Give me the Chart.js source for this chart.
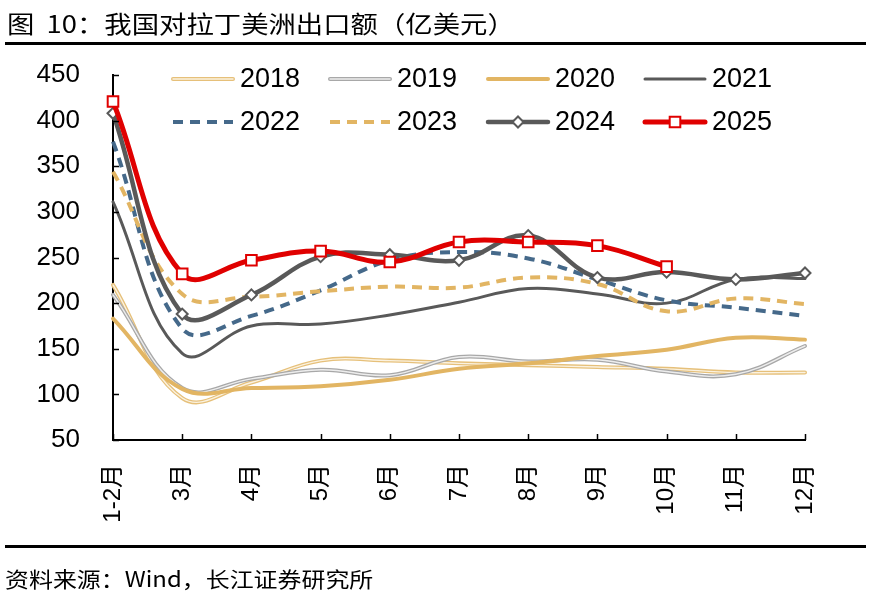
<!DOCTYPE html>
<html><head><meta charset="utf-8">
<script src="https://cdn.jsdelivr.net/npm/chart.js@4.4.1/dist/chart.umd.min.js"></script>
<style>
html,body{margin:0;padding:0;background:#fff;}
#wrap{position:relative;width:871px;height:597px;overflow:hidden;background:#fff;}
#title{position:absolute;left:7px;top:11px;font-family:"Noto Sans CJK SC";font-size:24px;line-height:24px;white-space:pre;color:#000;transform:scaleX(1.14);transform-origin:0 0;}
#rule1{position:absolute;left:5px;top:42px;width:861px;height:3px;background:#000;}
#rule2{position:absolute;left:5px;top:545px;width:861px;height:3px;background:#000;}
#source{position:absolute;left:5px;top:567px;font-family:"Noto Sans CJK SC";font-size:21px;line-height:22px;white-space:pre;color:#000;transform:scaleX(1.14);transform-origin:0 0;}
#c{position:absolute;left:0;top:0;}
</style></head>
<body>
<div id="wrap">
<canvas id="c" width="871" height="597"></canvas>
<div id="title">图  10：我国对拉丁美洲出口额（亿美元）</div>
<div id="rule1"></div>
<div id="rule2"></div>
<div id="source">资料来源：Wind，长江证券研究所</div>
</div>
<script>
const months = ['1-2月','3月','4月','5月','6月','7月','8月','9月','10月','11月','12月'];
const yMin = 50, yMax = 450, yStep = 50;
const v2018 = [220, 96, 113, 137, 137, 134, 132, 130, 128, 124, 124];
const v2019 = [209, 107, 117, 127, 121, 141, 136, 138, 125, 122, 153];
const v2020 = [183, 106, 107, 109, 116, 128, 134, 142, 149, 162, 160];
const v2021 = [311, 145, 175, 177, 187, 201, 216, 210, 200, 226, 227];
const v2022 = [377, 172, 186, 214, 247, 256, 249, 226, 203, 195, 186];
const v2023 = [344, 210, 207, 213, 218, 217, 228, 221, 191, 205, 199];
const v2024 = [408, 188, 209, 251, 253, 247, 274, 228, 234, 226, 233];
const v2025 = [421, 232, 247, 257, 245, 267, 267, 263, 240, null, null];

const GOLD = '#E2B563', DGREY = '#595959', BLUE = '#45698A', RED = '#E00000';

function series(label, data, color, width, extra){
  return Object.assign({
    label, data, borderColor: color, backgroundColor: color, borderWidth: width,
    pointRadius: 0, pointHoverRadius: 0, tension: 0.4, fill: false, clip: false,
    borderCapStyle: 'round', borderJoinStyle: 'round'
  }, extra || {});
}

const main = [
  series('2018', v2018, '#E6C07A', 4, {order: 18, innerColor: '#FBF2E0'}),
  series('2019', v2019, '#A8A8A8', 4, {order: 17, innerColor: '#EDEDED'}),
  series('2020', v2020, GOLD, 4, {order: 16}),
  series('2021', v2021, DGREY, 3, {order: 15}),
  series('2022', v2022, BLUE, 4, {order: 14, borderDash: [10, 7], borderCapStyle: 'butt'}),
  series('2023', v2023, GOLD, 4, {order: 13, borderDash: [10, 7], borderCapStyle: 'butt'}),
  series('2024', v2024, DGREY, 4.5, {order: 12, pointRadius: 5.5, pointStyle: 'rectRot', pointBackgroundColor: '#fff', pointBorderColor: DGREY, pointBorderWidth: 2}),
  series('2025', v2025, RED, 5, {order: 11, pointRadius: 7.5, pointStyle: 'rect', pointBackgroundColor: '#fff', pointBorderColor: RED, pointBorderWidth: 2})
];
const overlays = main.filter(d => d.innerColor).map(d =>
  series(d.label, d.data, d.innerColor, 1.4, {order: d.order - 0.5, isOverlay: true}));
const datasets = main.concat(overlays);

function drawMarker(ctx, style, x, y, r, fill, stroke, lw){
  ctx.save();
  ctx.setLineDash([]);
  ctx.beginPath();
  if (style === 'rectRot'){
    ctx.moveTo(x - r, y); ctx.lineTo(x, y - r); ctx.lineTo(x + r, y); ctx.lineTo(x, y + r); ctx.closePath();
  } else {
    const s = Math.SQRT1_2 * r;
    ctx.rect(x - s, y - s, 2 * s, 2 * s);
  }
  ctx.fillStyle = fill; ctx.fill();
  ctx.lineWidth = lw; ctx.strokeStyle = stroke; ctx.stroke();
  ctx.restore();
}

const legendPlugin = {
  id: 'customLegend',
  afterDraw(chart){
    const ctx = chart.ctx;
    const cols = [173, 330, 488, 645], rows = [79, 122];
    chart.data.datasets.filter(d => !d.isOverlay).forEach((d, i) => {
      const x0 = cols[i % 4], y = rows[Math.floor(i / 4)], x1 = x0 + 60;
      ctx.save();
      ctx.lineCap = d.borderDash ? 'butt' : 'round';
      ctx.setLineDash(d.borderDash || []);
      ctx.strokeStyle = d.borderColor; ctx.lineWidth = d.borderWidth;
      ctx.beginPath(); ctx.moveTo(x0, y); ctx.lineTo(x1, y); ctx.stroke();
      if (d.innerColor){
        ctx.strokeStyle = d.innerColor; ctx.lineWidth = 1.4;
        ctx.beginPath(); ctx.moveTo(x0, y); ctx.lineTo(x1, y); ctx.stroke();
      }
      if (d.pointStyle){
        drawMarker(ctx, d.pointStyle, (x0 + x1) / 2, y, d.pointRadius, d.pointBackgroundColor, d.pointBorderColor, d.pointBorderWidth);
      }
      ctx.setLineDash([]);
      ctx.fillStyle = '#000';
      ctx.font = '27px "Liberation Sans", Arial, sans-serif';
      ctx.textBaseline = 'middle';
      ctx.textAlign = 'left';
      ctx.fillText(d.label, x0 + 67, y + 1);
      ctx.restore();
    });
  }
};

const tickPlugin = {
  id: 'innerTicks',
  afterDraw(chart){
    const ctx = chart.ctx, xs = chart.scales.x, ys = chart.scales.y;
    ctx.save();
    ctx.strokeStyle = '#000'; ctx.lineWidth = 1.5;
    ctx.beginPath();
    ys.ticks.forEach((t, i) => {
      const y = Math.round(ys.getPixelForTick(i)) + 0.5;
      ctx.moveTo(ys.right, y); ctx.lineTo(ys.right + 6, y);
    });
    xs.ticks.forEach((t, i) => {
      const x = Math.round(xs.getPixelForTick(i)) + 0.5;
      ctx.moveTo(x, xs.top); ctx.lineTo(x, xs.top - 6);
    });
    ctx.stroke();
    ctx.restore();
  }
};

new Chart(document.getElementById('c'), {
  type: 'line',
  data: { labels: months, datasets },
  options: {
    responsive: false,
    animation: false,
    events: [],
    layout: { padding: { top: 75, right: 66, left: 0, bottom: 0 } },
    plugins: { legend: { display: false }, tooltip: { enabled: false } },
    scales: {
      x: {
        type: 'category', offset: false,
        grid: { display: false, drawTicks: false },
        border: { display: true, color: '#000', width: 2 },
        ticks: { autoSkip: false, maxRotation: 90, minRotation: 90, padding: 24, color: '#000',
                 font: { family: '"Liberation Sans", "Noto Sans CJK SC"', size: 24 } },
        afterFit(s){ s.height = 157; }
      },
      y: {
        min: yMin, max: yMax,
        grid: { display: false, drawTicks: false },
        border: { display: true, color: '#000', width: 2 },
        ticks: { stepSize: yStep, padding: 33, color: '#000',
                 font: { family: '"Liberation Sans"', size: 26 } },
        afterFit(s){ s.width = 113; }
      }
    }
  },
  plugins: [legendPlugin, tickPlugin]
});
</script>
</body></html>
